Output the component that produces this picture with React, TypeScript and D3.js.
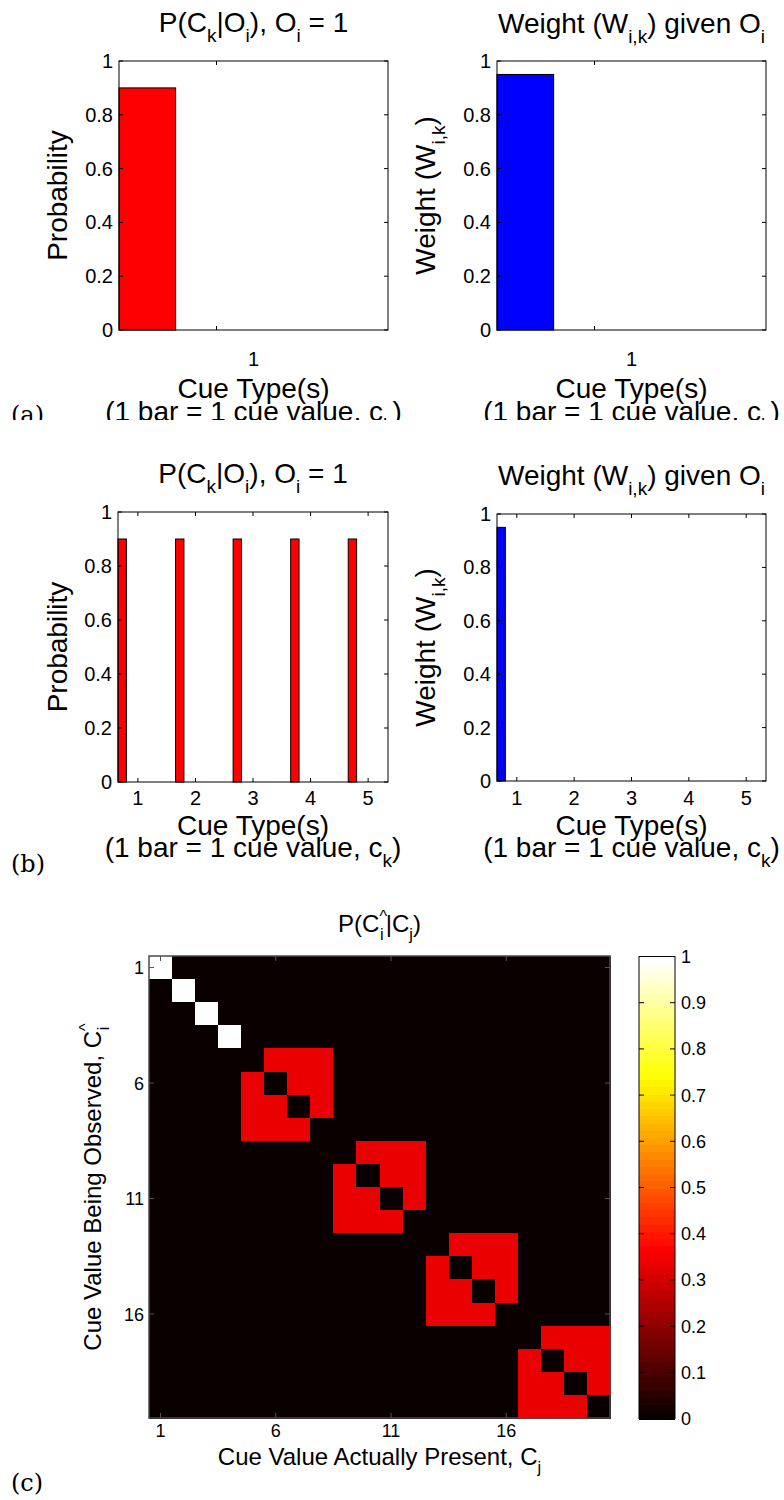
import React from "react";
import * as d3 from "d3";

const SANS = "'Liberation Sans', Arial, Helvetica, sans-serif";
const SERIF = "'DejaVu Serif', 'Liberation Serif', serif";

// ---- (a) one cue type, four cue values ----
const cueTypesA = [1];
const probabilityA = [0.9, 0, 0, 0];
const weightA = [0.95, 0, 0, 0];
const xTickMarksA = [0.905];
const xTickLabelsA = [1];

// ---- (b) five cue types, four cue values each ----
const cueTypesB = [1, 2, 3, 4, 5];
const probabilityB = [
  0.9, 0, 0, 0,
  0.9, 0, 0, 0,
  0.9, 0, 0, 0,
  0.9, 0, 0, 0,
  0.9, 0, 0, 0,
];
const weightB = [
  0.95, 0, 0, 0,
  0, 0, 0, 0,
  0, 0, 0, 0,
  0, 0, 0, 0,
  0, 0, 0, 0,
];

const barsPerCueType = 4;
const barYTicks = [0, 0.2, 0.4, 0.6, 0.8, 1];
const barYTickLabels = ["0", "0.2", "0.4", "0.6", "0.8", "1"];

// ---- (c) P(observed cue value | present cue value), rows = observed ----
const confusion = [
  [1, 0, 0, 0, 0, 0, 0, 0, 0, 0, 0, 0, 0, 0, 0, 0, 0, 0, 0, 0],
  [0, 1, 0, 0, 0, 0, 0, 0, 0, 0, 0, 0, 0, 0, 0, 0, 0, 0, 0, 0],
  [0, 0, 1, 0, 0, 0, 0, 0, 0, 0, 0, 0, 0, 0, 0, 0, 0, 0, 0, 0],
  [0, 0, 0, 1, 0, 0, 0, 0, 0, 0, 0, 0, 0, 0, 0, 0, 0, 0, 0, 0],
  [0, 0, 0, 0, 0, 0.33, 0.33, 0.33, 0, 0, 0, 0, 0, 0, 0, 0, 0, 0, 0, 0],
  [0, 0, 0, 0, 0.33, 0, 0.33, 0.33, 0, 0, 0, 0, 0, 0, 0, 0, 0, 0, 0, 0],
  [0, 0, 0, 0, 0.33, 0.33, 0, 0.33, 0, 0, 0, 0, 0, 0, 0, 0, 0, 0, 0, 0],
  [0, 0, 0, 0, 0.33, 0.33, 0.33, 0, 0, 0, 0, 0, 0, 0, 0, 0, 0, 0, 0, 0],
  [0, 0, 0, 0, 0, 0, 0, 0, 0, 0.33, 0.33, 0.33, 0, 0, 0, 0, 0, 0, 0, 0],
  [0, 0, 0, 0, 0, 0, 0, 0, 0.33, 0, 0.33, 0.33, 0, 0, 0, 0, 0, 0, 0, 0],
  [0, 0, 0, 0, 0, 0, 0, 0, 0.33, 0.33, 0, 0.33, 0, 0, 0, 0, 0, 0, 0, 0],
  [0, 0, 0, 0, 0, 0, 0, 0, 0.33, 0.33, 0.33, 0, 0, 0, 0, 0, 0, 0, 0, 0],
  [0, 0, 0, 0, 0, 0, 0, 0, 0, 0, 0, 0, 0, 0.33, 0.33, 0.33, 0, 0, 0, 0],
  [0, 0, 0, 0, 0, 0, 0, 0, 0, 0, 0, 0, 0.33, 0, 0.33, 0.33, 0, 0, 0, 0],
  [0, 0, 0, 0, 0, 0, 0, 0, 0, 0, 0, 0, 0.33, 0.33, 0, 0.33, 0, 0, 0, 0],
  [0, 0, 0, 0, 0, 0, 0, 0, 0, 0, 0, 0, 0.33, 0.33, 0.33, 0, 0, 0, 0, 0],
  [0, 0, 0, 0, 0, 0, 0, 0, 0, 0, 0, 0, 0, 0, 0, 0, 0, 0.33, 0.33, 0.33],
  [0, 0, 0, 0, 0, 0, 0, 0, 0, 0, 0, 0, 0, 0, 0, 0, 0.33, 0, 0.33, 0.33],
  [0, 0, 0, 0, 0, 0, 0, 0, 0, 0, 0, 0, 0, 0, 0, 0, 0.33, 0.33, 0, 0.33],
  [0, 0, 0, 0, 0, 0, 0, 0, 0, 0, 0, 0, 0, 0, 0, 0, 0.33, 0.33, 0.33, 0],
];
const cueValueTicks = [1, 6, 11, 16];
const colorbarTicks = [0, 0.1, 0.2, 0.3, 0.4, 0.5, 0.6, 0.7, 0.8, 0.9, 1];
const colorbarTickLabels = ["0", "0.1", "0.2", "0.3", "0.4", "0.5", "0.6", "0.7", "0.8", "0.9", "1"];

// 64-level "hot" colour map
const HOT_LEVELS = 64;
function hotLevel(k: number): string {
  // k in 1..64
  const n1 = 24, n2 = 24, n3 = 16;
  const r = k <= n1 ? k / n1 : 1;
  const g = k <= n1 ? 0 : k <= n1 + n2 ? (k - n1) / n2 : 1;
  const b = k <= n1 + n2 ? 0 : (k - n1 - n2) / n3;
  return d3.rgb(r * 255, g * 255, b * 255).formatHex();
}
function hot(v: number): string {
  const k = Math.min(HOT_LEVELS, Math.max(1, Math.floor(v * HOT_LEVELS) + 1));
  return hotLevel(k);
}

type Seg = { t: string; s?: "sub" | "sup"; dx?: number };

function Rich(props: {
  segs: Seg[];
  x?: number;
  y?: number;
  size: number;
  anchor?: "start" | "middle" | "end";
  transform?: string;
}) {
  const { segs, size } = props;
  const subShift = size * 0.34;
  const supShift = size * 0.42;
  let cur = 0;
  return (
    <text
      x={props.x ?? 0}
      y={props.y ?? 0}
      fontSize={size}
      fontFamily={SANS}
      textAnchor={props.anchor ?? "middle"}
      transform={props.transform}
      fill="#000"
    >
      {segs.map((sg, i) => {
        const target = sg.s === "sub" ? subShift : sg.s === "sup" ? -supShift : 0;
        const dy = target - cur;
        cur = target;
        return (
          <tspan key={i} dy={dy} dx={sg.dx ?? 0} fontSize={sg.s ? size * 0.68 : size}>
            {sg.t}
          </tspan>
        );
      })}
    </text>
  );
}

const TICK = 4;

function BarPanel(p: {
  x0: number;
  x1: number;
  y0: number;
  y1: number;
  groups: number[];
  values: number[];
  color: string;
  xTickMarks: number[];
  xTickLabels: number[];
  tickLabelY: number;
  title: Seg[];
  titleY: number;
  ylabel: Seg[];
  ylabelX: number;
  xlabelY1: number;
  xlabelY2: number;
}) {
  const n = barsPerCueType;
  const groupWidth = Math.min(0.8, n / (n + 1.5));
  const step = groupWidth / n;
  const barW = step * 0.8;
  const bars = p.values.map((v, i) => ({
    c: p.groups[Math.floor(i / n)] - groupWidth / 2 + ((i % n) + 0.5) * step,
    v,
  }));
  const lo = (d3.min(bars, (d) => d.c) as number) - barW / 2;
  const hi = (d3.max(bars, (d) => d.c) as number) + barW / 2;
  const x = d3.scaleLinear().domain([lo, hi]).range([p.x0, p.x1]);
  const y = d3.scaleLinear().domain([0, 1]).range([p.y1, p.y0]);
  const cx = (p.x0 + p.x1) / 2;
  const cy = (p.y0 + p.y1) / 2;

  return (
    <g>
      <rect x={p.x0} y={p.y0} width={p.x1 - p.x0} height={p.y1 - p.y0} fill="#fff" />
      {bars.map((b, i) => (
        <rect
          key={i}
          x={x(b.c - barW / 2)}
          y={y(b.v)}
          width={x(b.c + barW / 2) - x(b.c - barW / 2)}
          height={y(0) - y(b.v)}
          fill={p.color}
          stroke="#000"
          strokeWidth={1}
        />
      ))}
      {/* frame */}
      <rect
        x={p.x0}
        y={p.y0}
        width={p.x1 - p.x0}
        height={p.y1 - p.y0}
        fill="none"
        stroke="#000"
        strokeWidth={1}
      />
      {/* y ticks, both sides */}
      {barYTicks.map((t, i) => (
        <g key={i}>
          <line x1={p.x0} x2={p.x0 + TICK} y1={y(t)} y2={y(t)} stroke="#000" />
          <line x1={p.x1} x2={p.x1 - TICK} y1={y(t)} y2={y(t)} stroke="#000" />
          <text
            x={p.x0 - 6}
            y={y(t) + 7}
            fontSize={20}
            fontFamily={SANS}
            textAnchor="end"
          >
            {barYTickLabels[i]}
          </text>
        </g>
      ))}
      {/* x ticks, bottom and top */}
      {p.xTickMarks.map((t, i) => (
        <g key={i}>
          <line x1={x(t)} x2={x(t)} y1={p.y1} y2={p.y1 - TICK} stroke="#000" />
          <line x1={x(t)} x2={x(t)} y1={p.y0} y2={p.y0 + TICK} stroke="#000" />
        </g>
      ))}
      {p.xTickLabels.map((t, i) => (
        <text key={i} x={x(t)} y={p.tickLabelY} fontSize={20} fontFamily={SANS} textAnchor="middle">
          {t}
        </text>
      ))}
      <Rich segs={p.title} x={cx} y={p.titleY} size={28} />
      <Rich segs={p.ylabel} size={28} transform={`translate(${p.ylabelX},${cy}) rotate(-90)`} />
      <Rich segs={[{ t: "Cue Type(s)" }]} x={cx} y={p.xlabelY1} size={28} />
      <Rich
        segs={[{ t: "(1 bar = 1 cue value, c" }, { t: "k", s: "sub" }, { t: ")" }]}
        x={cx}
        y={p.xlabelY2}
        size={28}
      />
    </g>
  );
}

const probTitle: Seg[] = [
  { t: "P(C" },
  { t: "k", s: "sub" },
  { t: "|O" },
  { t: "i", s: "sub" },
  { t: "), O" },
  { t: "i", s: "sub" },
  { t: " = 1" },
];
const weightTitle: Seg[] = [
  { t: "Weight (W" },
  { t: "i,k", s: "sub" },
  { t: ") given O" },
  { t: "i", s: "sub" },
];
const probLabel: Seg[] = [{ t: "Probability" }];
const weightLabel: Seg[] = [{ t: "Weight (W" }, { t: "i,k", s: "sub" }, { t: ")" }];

function Heatmap() {
  const X0 = 149, X1 = 610, Y0 = 956, Y1 = 1418;
  const n = confusion.length;
  const idx = d3.range(1, n + 1);
  const xb = d3.scaleBand<number>().domain(idx).range([X0, X1]);
  const yb = d3.scaleBand<number>().domain(idx).range([Y0, Y1]);
  const bw = xb.bandwidth();
  const bh = yb.bandwidth();

  const C0 = 639, C1 = 675;
  const yc = d3.scaleLinear().domain([0, 1]).range([Y1 + 0.5, Y0 + 0.5]);
  const levels = d3.range(1, HOT_LEVELS + 1);
  const cx = (X0 + X1) / 2;
  const cy = (Y0 + Y1) / 2;

  return (
    <g>
      <g shapeRendering="crispEdges">
        {confusion.map((row, ri) =>
          row.map((v, ci) => (
            <rect
              key={`${ri}-${ci}`}
              x={xb(ci + 1)}
              y={yb(ri + 1)}
              width={bw + 1}
              height={bh + 1}
              fill={hot(v)}
            />
          ))
        )}
      </g>
      <rect x={X0} y={Y0} width={X1 - X0} height={Y1 - Y0} fill="none" stroke="#4a4a4a" strokeWidth={1.5} />
      {cueValueTicks.map((t) => {
        const px = (xb(t) as number) + bw / 2;
        const py = (yb(t) as number) + bh / 2;
        return (
          <g key={t}>
            <line x1={px} x2={px} y1={Y0} y2={Y0 + 5} stroke="#555" />
            <line x1={px} x2={px} y1={Y1} y2={Y1 - 5} stroke="#555" />
            <line x1={X0} x2={X0 + 5} y1={py} y2={py} stroke="#555" />
            <line x1={X1} x2={X1 - 5} y1={py} y2={py} stroke="#555" />
            <text x={px} y={1437} fontSize={18} fontFamily={SANS} textAnchor="middle">
              {t}
            </text>
            <text x={X0 - 5} y={py + 6.5} fontSize={18} fontFamily={SANS} textAnchor="end">
              {t}
            </text>
          </g>
        );
      })}
      <Rich
        segs={[
          { t: "P(C" },
          { t: "^", s: "sup" },
          { t: "i", s: "sub", dx: -7 },
          { t: "|C", dx: 2 },
          { t: "j", s: "sub" },
          { t: ")" },
        ]}
        x={cx}
        y={932}
        size={24}
      />
      <Rich
        segs={[{ t: "Cue Value Actually Present, C" }, { t: "j", s: "sub" }]}
        x={cx}
        y={1465}
        size={24}
      />
      <Rich
        segs={[
          { t: "Cue Value Being Observed, C" },
          { t: "^", s: "sup" },
          { t: "i", s: "sub", dx: -7 },
        ]}
        size={24}
        transform={`translate(101,${cy}) rotate(-90)`}
      />

      {/* colour bar */}
      <g shapeRendering="crispEdges">
        {levels.map((k) => (
          <rect
            key={k}
            x={C0}
            y={yc(k / HOT_LEVELS)}
            width={C1 - C0}
            height={yc((k - 1) / HOT_LEVELS) - yc(k / HOT_LEVELS) + 1}
            fill={hotLevel(k)}
          />
        ))}
      </g>
      <rect x={C0} y={yc(1)} width={C1 - C0} height={yc(0) - yc(1)} fill="none" stroke="#000" strokeWidth={1} />
      {colorbarTicks.map((t, i) => (
        <g key={i}>
          <line x1={C0} x2={C0 + 5} y1={yc(t)} y2={yc(t)} stroke="#000" />
          <line x1={C1} x2={C1 - 5} y1={yc(t)} y2={yc(t)} stroke="#000" />
          <text x={C1 + 6} y={yc(t) + 6.5} fontSize={18} fontFamily={SANS}>
            {colorbarTickLabels[i]}
          </text>
        </g>
      ))}
    </g>
  );
}

export default function App() {
  return (
    <svg
      width={784}
      height={1500}
      viewBox="0 0 784 1500"
      style={{ position: "absolute", left: 0, top: 0, background: "#fff" }}
    >
      <defs>
        <clipPath id="rowA">
          <rect x={0} y={0} width={784} height={420} />
        </clipPath>
      </defs>
      <rect x={0} y={0} width={784} height={1500} fill="#fff" />

      <g clipPath="url(#rowA)">
        <BarPanel
          x0={119}
          x1={388}
          y0={61}
          y1={330}
          groups={cueTypesA}
          values={probabilityA}
          color="#ff0000"
          xTickMarks={xTickMarksA}
          xTickLabels={xTickLabelsA}
          tickLabelY={366}
          title={probTitle}
          titleY={32}
          ylabel={probLabel}
          ylabelX={67}
          xlabelY1={398}
          xlabelY2={421}
        />
        <BarPanel
          x0={497}
          x1={766}
          y0={61}
          y1={330}
          groups={cueTypesA}
          values={weightA}
          color="#0000ff"
          xTickMarks={xTickMarksA}
          xTickLabels={xTickLabelsA}
          tickLabelY={366}
          title={weightTitle}
          titleY={33}
          ylabel={weightLabel}
          ylabelX={435}
          xlabelY1={398}
          xlabelY2={421}
        />
        <text x={11} y={423} fontSize={24} fontFamily={SERIF}>
          (a)
        </text>
      </g>

      <BarPanel
        x0={118}
        x1={388}
        y0={512}
        y1={782}
        groups={cueTypesB}
        values={probabilityB}
        color="#ff0000"
        xTickMarks={cueTypesB}
        xTickLabels={cueTypesB}
        tickLabelY={805}
        title={probTitle}
        titleY={483}
        ylabel={probLabel}
        ylabelX={67}
        xlabelY1={835}
        xlabelY2={857}
      />
      <BarPanel
        x0={497}
        x1={766}
        y0={514}
        y1={781}
        groups={cueTypesB}
        values={weightB}
        color="#0000ff"
        xTickMarks={cueTypesB}
        xTickLabels={cueTypesB}
        tickLabelY={805}
        title={weightTitle}
        titleY={485}
        ylabel={weightLabel}
        ylabelX={435}
        xlabelY1={835}
        xlabelY2={857}
      />
      <text x={11} y={872} fontSize={24} fontFamily={SERIF}>
        (b)
      </text>

      <Heatmap />
      <text x={11} y={1491} fontSize={24} fontFamily={SERIF}>
        (c)
      </text>
    </svg>
  );
}
